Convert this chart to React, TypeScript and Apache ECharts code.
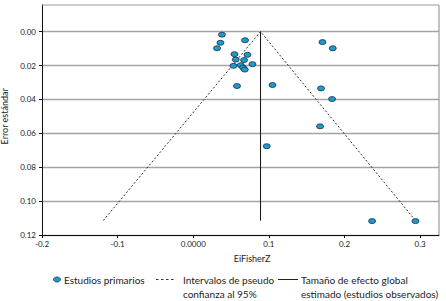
import React, { useEffect, useRef } from "react";
import * as echarts from "echarts";

// Primary studies: Fisher Z effect size and standard error
const studyZ = [
  0.038, 0.036, 0.0315, 0.0685, 0.0545, 0.0717, 0.0562, 0.0672, 0.0532, 0.0628,
  0.0783, 0.0659, 0.0681, 0.0579, 0.1048, 0.1709, 0.1845, 0.169, 0.1836, 0.1677,
  0.0972, 0.2365, 0.2939,
];
const studySE = [
  0.0018, 0.0066, 0.0098, 0.0051, 0.0133, 0.0137, 0.0165, 0.0168, 0.0202, 0.0198,
  0.0192, 0.0212, 0.0224, 0.0321, 0.0315, 0.0062, 0.0098, 0.0335, 0.0398, 0.0559,
  0.0676, 0.1118, 0.1118,
];

// Pseudo 95% confidence funnel
const funnelX = [-0.119, 0.089, 0.294];
const funnelY = [0.1115, 0, 0.1115];

// Global effect size line
const effectX = [0.089, 0.089];
const effectY = [0, 0.1115];

// Axis ticks
const xTickValues = [-0.2, -0.1, 0, 0.1, 0.2, 0.3];
const xTickLabels = ["-0.2", "-0.1", "0.0000", "0.1", "0.2", "0.3"];

const legendLabels = [
  "Estudios primarios",
  "Intervalos de pseudo\nconfianza al 95%",
  "Tamaño de efecto global\nestimado (estudios observados)",
];

const FONT = "Lato";
const ELLIPSE = "path://M0,2.5A3.5,2.5 0 1 1 7,2.5A3.5,2.5 0 1 1 0,2.5Z";

export default function App() {
  const ref = useRef<HTMLDivElement>(null);
  useEffect(() => {
    document.body.style.margin = "0";
    if (!ref.current) return;
    const chart = echarts.init(ref.current, undefined, { renderer: "svg" });
    const legendY = 279.5;
    const legendFont = 10;
    chart.setOption({
      animation: false,
      textStyle: { fontFamily: FONT },
      grid: {
        left: 42,
        right: 7,
        top: -2.3,
        bottom: 66,
        show: false,
        containLabel: false,
        outerBoundsMode: "none",
      },
      xAxis: {
        type: "value",
        min: -0.2,
        max: 0.325,
        name: "EiFisherZ",
        nameLocation: "middle",
        nameGap: 19,
        nameTextStyle: { fontSize: 9, color: "#222", fontFamily: FONT, padding: [0, 0, 0, 23] },
        axisLine: { show: true, onZero: false, lineStyle: { color: "#111", width: 1 } },
        axisTick: { show: true, length: 3, customValues: xTickValues, lineStyle: { color: "#111" } },
        axisLabel: {
          customValues: xTickValues,
          margin: 5,
          fontSize: 8,
          color: "#222",
          fontFamily: FONT,
          formatter: (v: number) => {
            const i = xTickValues.findIndex((t) => Math.abs(t - v) < 1e-9);
            return i >= 0 ? xTickLabels[i] : "";
          },
        },
        splitLine: { show: false },
      },
      yAxis: {
        type: "value",
        inverse: true,
        min: -0.02,
        max: 0.12,
        interval: 0.02,
        name: "Error estándar",
        nameLocation: "middle",
        nameGap: 30,
        nameTextStyle: { fontSize: 9, color: "#222", fontFamily: FONT },
        axisLine: { show: true, onZero: false, lineStyle: { color: "#111", width: 1 } },
        axisTick: { show: true, length: 3, lineStyle: { color: "#111" } },
        axisLabel: {
          showMinLabel: false,
          margin: 6,
          fontSize: 8,
          color: "#222",
          fontFamily: FONT,
          formatter: (v: number) => (v < -1e-9 ? "" : v.toFixed(2)),
        },
        splitLine: { show: true, lineStyle: { color: "#a3a3a3", width: 1.4 } },
      },
      series: [
        {
          type: "line",
          data: funnelX.map((x, i) => [x, funnelY[i]]),
          showSymbol: false,
          lineStyle: { color: "#333", width: 1, type: [2, 2] },
          z: 2,
        },
        {
          type: "line",
          data: effectX.map((x, i) => [x, effectY[i]]),
          showSymbol: false,
          lineStyle: { color: "#111", width: 1 },
          z: 2,
        },
        {
          type: "scatter",
          data: studyZ.map((x, i) => [x, studySE[i]]),
          symbol: ELLIPSE,
          symbolSize: [7, 5],
          itemStyle: { color: "#1b9ccd", borderColor: "#1c2e44", borderWidth: 0.8, opacity: 1 },
          z: 5,
        },
      ],
      graphic: [
        { type: "rect", shape: { x: 0, y: 0, width: 446, height: 4.5 }, style: { fill: "#fff" }, z: 100 },
        { type: "line", shape: { x1: 42, y1: 5, x2: 439, y2: 5 }, style: { stroke: "#9a9a9a", lineWidth: 1.2 }, z: 101 },
        { type: "line", shape: { x1: 439, y1: 5, x2: 439, y2: 235 }, style: { stroke: "#9a9a9a", lineWidth: 1.2 }, z: 101 },
        // legend
        {
          type: "ellipse",
          shape: { cx: 57, cy: legendY, rx: 3.5, ry: 2.5 },
          style: { fill: "#1b9ccd", stroke: "#1c2e44", lineWidth: 0.8 },
          z: 101,
        },
        {
          type: "text",
          x: 64,
          y: legendY,
          style: { text: legendLabels[0], fontSize: legendFont, fontFamily: FONT, fill: "#222", verticalAlign: "middle" },
          z: 101,
        },
        {
          type: "line",
          shape: { x1: 156, y1: legendY, x2: 176, y2: legendY },
          style: { stroke: "#333", lineWidth: 1, lineDash: [2.5, 2.5] },
          z: 101,
        },
        {
          type: "text",
          x: 183,
          y: legendY - 7,
          style: { text: legendLabels[1], fontSize: legendFont, fontFamily: FONT, fill: "#222", verticalAlign: "top", lineHeight: 14 },
          z: 101,
        },
        {
          type: "line",
          shape: { x1: 278, y1: legendY, x2: 298, y2: legendY },
          style: { stroke: "#222", lineWidth: 1 },
          z: 101,
        },
        {
          type: "text",
          x: 301,
          y: legendY - 7,
          style: { text: legendLabels[2], fontSize: legendFont, fontFamily: FONT, fill: "#222", verticalAlign: "top", lineHeight: 14 },
          z: 101,
        },
      ],
    });
    return () => chart.dispose();
  }, []);
  return <div ref={ref} style={{ width: 446, height: 301 }} />;
}
